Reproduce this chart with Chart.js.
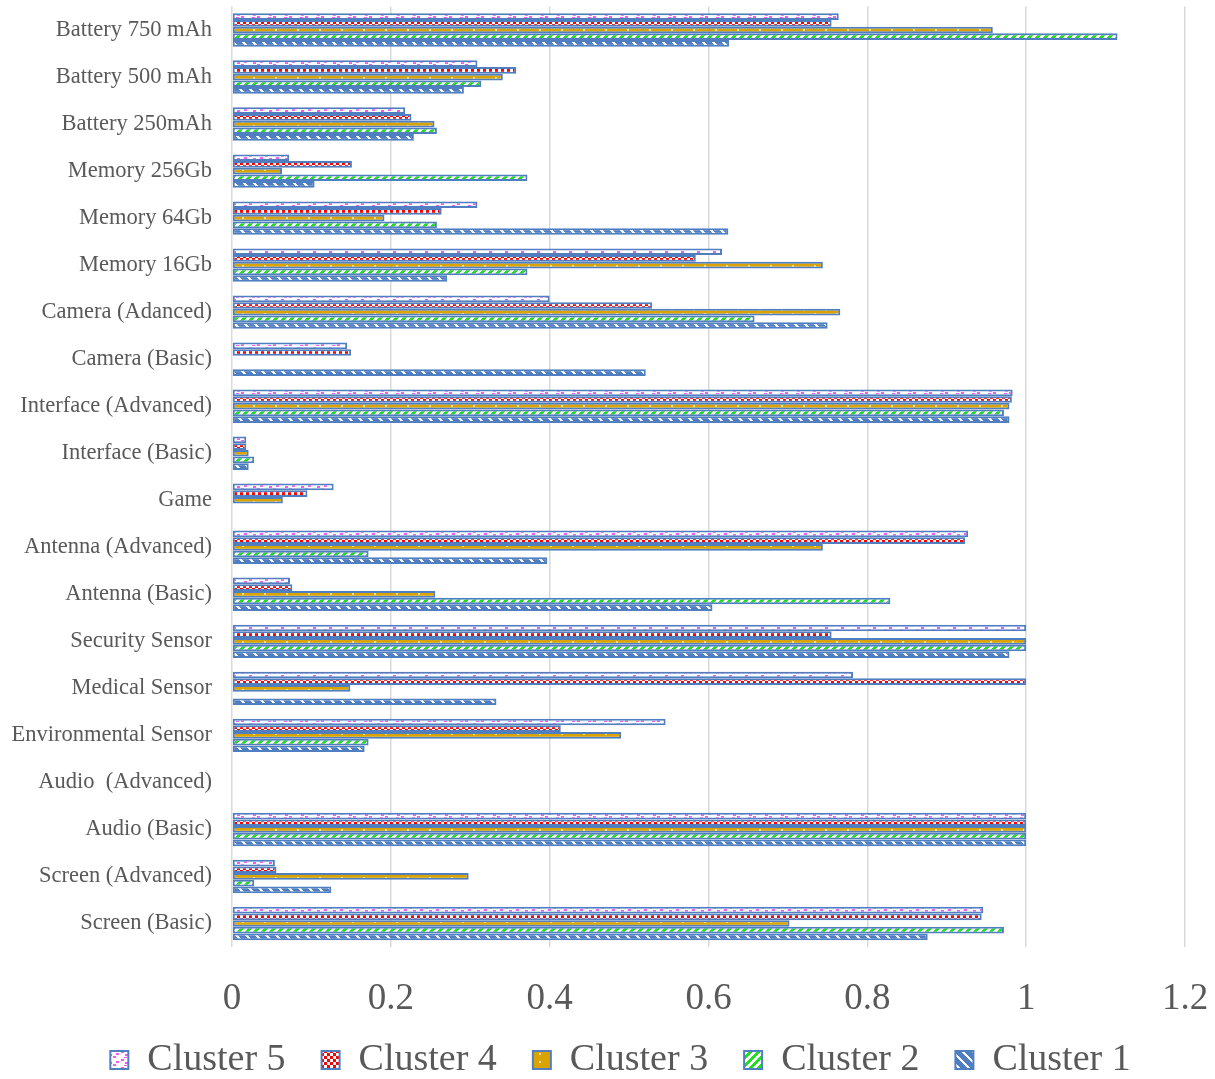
<!DOCTYPE html>
<html>
<head>
<meta charset="utf-8">
<script src="https://cdn.jsdelivr.net/npm/chart.js@4/dist/chart.umd.min.js"></script>
<style>
  html, body { margin: 0; padding: 0; background: #ffffff; }
  #wrap { width: 1215px; height: 1079px; }
</style>
</head>
<body>
<div id="wrap"><canvas id="chart" width="1215" height="1079"></canvas></div>
<script>
// Feature categories, top to bottom
const categories = [
  'Battery 750 mAh', 'Battery 500 mAh', 'Battery 250mAh', 'Memory 256Gb', 'Memory 64Gb',
  'Memory 16Gb', 'Camera (Adanced)', 'Camera (Basic)', 'Interface (Advanced)', 'Interface (Basic)',
  'Game', 'Antenna (Advanced)', 'Antenna (Basic)', 'Security Sensor', 'Medical Sensor',
  'Environmental Sensor', 'Audio  (Advanced)', 'Audio (Basic)', 'Screen (Advanced)', 'Screen (Basic)'
];

const cluster5 = [0.764, 0.309, 0.218, 0.072, 0.309, 0.617, 0.400, 0.145, 0.983, 0.018,
                  0.128, 0.927, 0.073, 1.000, 0.782, 0.546, 0, 1.000, 0.054, 0.946];
const cluster4 = [0.755, 0.358, 0.226, 0.151, 0.264, 0.584, 0.529, 0.150, 0.982, 0.018,
                  0.095, 0.923, 0.076, 0.755, 1.000, 0.414, 0, 1.000, 0.056, 0.944];
const cluster3 = [0.958, 0.341, 0.255, 0.063, 0.192, 0.744, 0.766, 0, 0.979, 0.021,
                  0.064, 0.744, 0.256, 1.000, 0.149, 0.490, 0, 1.000, 0.298, 0.702];
const cluster2 = [1.115, 0.314, 0.258, 0.372, 0.258, 0.372, 0.658, 0, 0.972, 0.028,
                  0, 0.172, 0.829, 1.000, 0, 0.172, 0, 1.000, 0.028, 0.972];
const cluster1 = [0.626, 0.292, 0.229, 0.104, 0.625, 0.271, 0.750, 0.521, 0.979, 0.021,
                  0, 0.397, 0.605, 0.979, 0.333, 0.167, 0, 1.000, 0.125, 0.876];

const seriesNames = ['Cluster 5', 'Cluster 4', 'Cluster 3', 'Cluster 2', 'Cluster 1'];
const xTicks = [0, 0.2, 0.4, 0.6, 0.8, 1, 1.2];

const OUTLINE = '#4f7fc0';
const TEXT = '#595959';
const FONT = "'Liberation Serif', 'Times New Roman', serif";

function tile(w, h, draw) {
  const c = document.createElement('canvas');
  c.width = w; c.height = h;
  const g = c.getContext('2d');
  draw(g, w, h);
  return document.getElementById('chart').getContext('2d').createPattern(c, 'repeat');
}

// pink confetti on white
const confetti = tile(16, 8, (g, w, h) => {
  g.fillStyle = '#ffffff'; g.fillRect(0, 0, w, h);
  g.fillStyle = '#f25cf2';
  g.fillRect(1, 0, 3, 2); g.fillRect(9, 3, 3, 2); g.fillRect(4, 5, 3, 2);
  g.fillRect(13, 6, 3, 2); g.fillRect(12, 1, 3, 1);
});
// red and white small checkerboard
const checker = tile(6, 6, (g, w, h) => {
  g.fillStyle = '#ffffff'; g.fillRect(0, 0, w, h);
  g.fillStyle = '#ff0000';
  g.fillRect(0, 0, 3, 3); g.fillRect(3, 3, 3, 3);
});
// gold with small light dots
const dotted = tile(22, 8, (g, w, h) => {
  g.fillStyle = '#dba300'; g.fillRect(0, 0, w, h);
  g.fillStyle = '#f7e3a0';
  g.fillRect(0, 1, 2, 2); g.fillRect(11, 5, 2, 2);
});
// green and white upward diagonal stripes
const upStripe = tile(8, 8, (g, w, h) => {
  g.fillStyle = '#ffffff'; g.fillRect(0, 0, w, h);
  g.fillStyle = '#22dd22';
  for (let y = 0; y < h; y++) {
    for (let x = 0; x < w; x++) {
      if (((x + y) % 8) < 4) g.fillRect(x, y, 1, 1);
    }
  }
});
// blue and white downward diagonal stripes
const downStripe = tile(10, 10, (g, w, h) => {
  g.fillStyle = '#4f7fc0'; g.fillRect(0, 0, w, h);
  g.fillStyle = '#ffffff';
  for (let y = 0; y < h; y++) {
    for (let x = 0; x < w; x++) {
      if (((x - y + 20) % 10) < 3) g.fillRect(x, y, 1, 1);
    }
  }
});

const fills = [confetti, checker, dotted, upStripe, downStripe];
const values = [cluster5, cluster4, cluster3, cluster2, cluster1];

const datasets = seriesNames.map((name, i) => ({
  label: name,
  data: values[i],
  backgroundColor: fills[i],
  borderColor: OUTLINE,
  borderWidth: 2,
  borderSkipped: false,
  categoryPercentage: 0.71,
  barPercentage: 1.0
}));

// legend row sits a little lower and further right; x tick labels get room below the axis box
const layoutTweaks = {
  id: 'layoutTweaks',
  afterLayout(chart) {
    const lg = chart.legend;
    if (lg) {
      lg.top += 10; lg.bottom += 10;
      lg.left += 28; lg.right += 28;
    }
    const xs = chart.scales.x;
    if (xs) xs.bottom += 50;
  }
};

new Chart(document.getElementById('chart'), {
  type: 'bar',
  data: { labels: categories, datasets },
  plugins: [layoutTweaks],
  options: {
    indexAxis: 'y',
    responsive: false,
    animation: false,
    layout: { padding: { left: 0, right: 30, top: 6.5, bottom: 0 } },
    plugins: {
      tooltip: { enabled: false },
      legend: {
        position: 'bottom',
        labels: {
          font: { family: FONT, size: 38 },
          color: TEXT,
          boxWidth: 18,
          boxHeight: 18,
          padding: 36
        }
      }
    },
    scales: {
      x: {
        min: 0,
        max: 1.2,
        afterBuildTicks(scale) {
          scale.ticks = xTicks.map(v => ({ value: v }));
        },
        afterFit(scale) {
          scale.height = 48;
          scale.paddingLeft = 0;
          scale.paddingRight = 0;
        },
        ticks: {
          font: { family: FONT, size: 37 },
          color: TEXT,
          padding: 30,
          callback: v => String(v)
        },
        grid: { color: '#d9d9d9', lineWidth: 1.5, drawTicks: false },
        border: { display: false }
      },
      y: {
        afterFit(scale) {
          scale.width = 232;
          scale.paddingTop = 0;
          scale.paddingBottom = 0;
        },
        ticks: {
          font: { family: FONT, size: 22.5 },
          color: TEXT,
          padding: 20
        },
        grid: { display: false, drawTicks: false },
        border: { display: false }
      }
    }
  }
});
</script>
</body>
</html>
